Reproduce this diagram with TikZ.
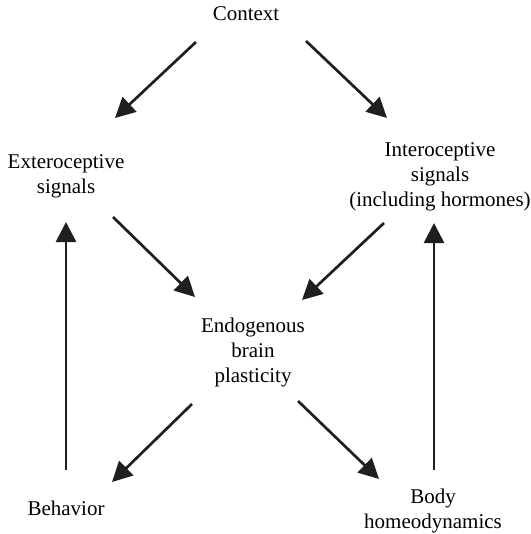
\documentclass[tikz,border=0pt]{standalone}
\usepackage{fontspec}
\setmainfont{Liberation Serif}
\usetikzlibrary{arrows.meta,calc}

\begin{document}
\begin{tikzpicture}[x=0.5pt, y=-0.5pt,
    label/.style={align=center, inner sep=0pt, font=\fontsize{10.5}{12.5}\selectfont},
    arrow/.style={-{Triangle[length=10pt, width=10pt]}, line width=1.35pt, color=black!88}]

    \useasboundingbox (0,0) rectangle (530,534);

    % nodes
    \node[label, anchor=base] (ctx) at (246, 21) {Context};
    \node[label] (ext)  at (66, 176)  {Exteroceptive\\signals};
    \node[label] (int)  at (440, 177) {Interoceptive\\signals\\(including hormones)};
    \node[label] (endo) at (253, 352) {Endogenous\\brain\\plasticity};
    \node[label, anchor=base] (beh) at (66, 515) {Behavior};
    \node[label] (body) at (433, 511) {Body\\homeodynamics};

    % from context
    \draw[arrow] ($(ctx.base)+(-50,21)$) -- ($(ext)+(49,-58)$);
    \draw[arrow] ($(ctx.base)+(60,20)$) -- ($(int)+(-53,-59)$);

    % into plasticity
    \draw[arrow] ($(ext)+(47,41)$) -- ($(endo)+(-58,-55)$);
    \draw[arrow] ($(int)+(-56,46)$) -- ($(endo)+(49,-52)$);

    % out of plasticity
    \draw[arrow] ($(endo)+(-61,52)$) -- ($(beh.base)+(46,-33)$);
    \draw[arrow] ($(endo)+(45,49)$) -- ($(body)+(-54,-32)$);

    % feedback
    \draw[arrow] ($(beh.base)+(0,-45)$) -- ($(ext)+(0,46)$);
    \draw[arrow] ($(body)+(1,-41)$) -- ($(int)+(-6,46)$);

\end{tikzpicture}
\end{document}
